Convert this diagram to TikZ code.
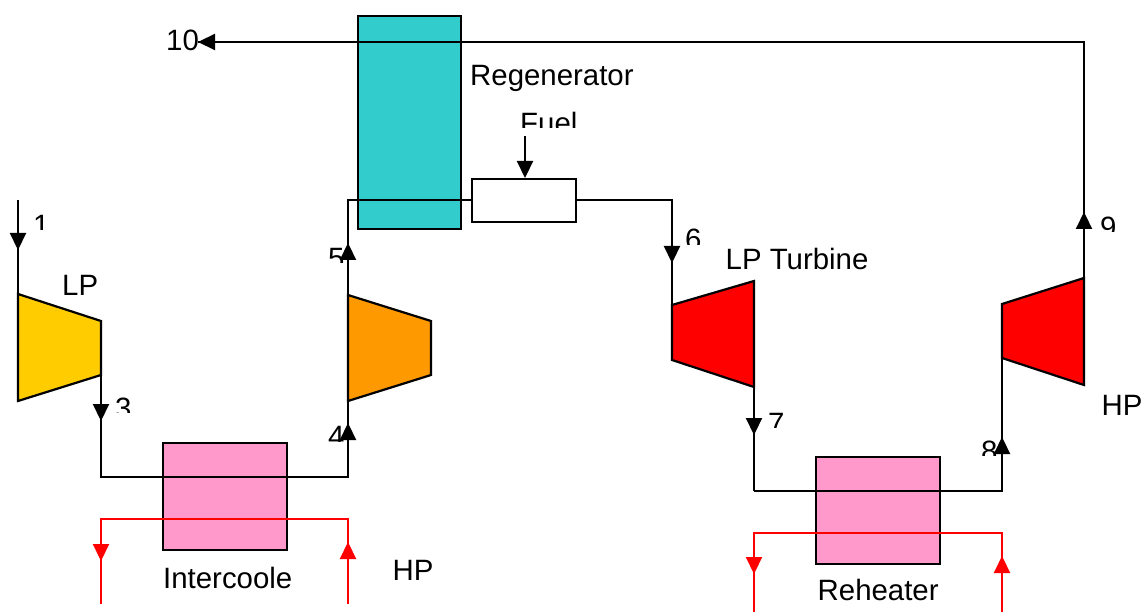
\documentclass[tikz,border=0pt]{standalone}
\usepackage{fontspec}
\setmainfont{Liberation Sans}
\usetikzlibrary{arrows.meta}
\definecolor{regen}{HTML}{33CCCC}
\definecolor{hx}{HTML}{FF99CC}
\definecolor{lpcomp}{HTML}{FFCC00}
\definecolor{hpcomp}{HTML}{FF9900}
\tikzset{
  flow/.style={draw=black,line width=2.2pt},
  hot/.style={draw=red,line width=2.2pt},
  flowtip/.style={flow,-{Triangle[length=17pt,width=16pt]}},
  hottip/.style={hot,-{Triangle[length=17pt,width=16pt]},red},
  box/.style={draw=black,line width=2.6pt,inner sep=0pt,outer sep=0pt,anchor=north west},
  machine/.style={draw=black,line width=2.2pt,line join=miter},
  lab/.style={anchor=base west,inner sep=0pt,font=\fontsize{29.4}{29.4}\selectfont},
}
\newcommand{\cliplabel}[5]{\begin{scope}\clip (0,0) rectangle (1143,#1);\node[lab] (#2) at (#3,#4) {#5};\end{scope}}
\begin{document}
\begin{tikzpicture}[x=1pt,y=-1pt]
\useasboundingbox (0,0) rectangle (1143,612);
% unit outlines
\coordinate (lpcA) at (18,294); \coordinate (lpcB) at (101,321); \coordinate (lpcC) at (101,375); \coordinate (lpcD) at (18,401);
\coordinate (hpcA) at (348,295); \coordinate (hpcB) at (431,321); \coordinate (hpcC) at (431,375); \coordinate (hpcD) at (348,401);
\coordinate (lptA) at (672,305); \coordinate (lptB) at (754,281); \coordinate (lptC) at (754,387); \coordinate (lptD) at (672,360);
\coordinate (hptA) at (1002,304); \coordinate (hptB) at (1084,278); \coordinate (hptC) at (1084,385); \coordinate (hptD) at (1002,358);
% clipped labels (under the arrows)
\cliplabel{230}{n1}{33}{236}{1}
\cliplabel{412}{n3}{115}{418}{3}
\cliplabel{263}{n5}{328}{269}{5}
\cliplabel{441}{n4}{328}{446}{4}
\cliplabel{245}{n6}{685}{250}{6}
\cliplabel{427}{n7}{768}{433}{7}
\cliplabel{455}{n8}{981}{461}{8}
\cliplabel{232}{n9}{1100}{238}{9}
\cliplabel{128}{nfuel}{520}{134}{Fuel}
\node[lab] (n10) at (166,51) {10};
\node[lab] (nreg) at (470,85.5) {Regenerator};
\node[lab] (nlp) at (62,295) {LP};
\node[lab] (nlpt) at (725.5,269.5) {LP Turbine};
\node[lab] (nhpr) at (1101.5,415) {HP};
\node[lab] (nhpl) at (392.5,580) {HP};
\node[lab] (nic) at (163,588) {Intercoole};
\node[lab] (nrh) at (817.5,600) {Reheater};
% equipment
\draw[machine,fill=lpcomp] (lpcA) -- (lpcB) -- (lpcC) -- (lpcD) -- cycle;
\draw[machine,fill=hpcomp] (hpcA) -- (hpcB) -- (hpcC) -- (hpcD) -- cycle;
\draw[machine,fill=red] (lptA) -- (lptB) -- (lptC) -- (lptD) -- cycle;
\draw[machine,fill=red] (hptA) -- (hptB) -- (hptC) -- (hptD) -- cycle;
\node[box,fill=regen,minimum width=103pt,minimum height=213pt] (regen) at (358,16) {};
\node[box,fill=white,minimum width=104pt,minimum height=43pt] (comb) at (472,179) {};
\node[box,fill=hx,minimum width=124pt,minimum height=107pt] (ic) at (163,443) {};
\node[box,fill=hx,minimum width=124pt,minimum height=107pt] (rh) at (816,457) {};
% route points
\coordinate (in1) at (18,200); \coordinate (t1) at (18,250); \coordinate (e1) at (18,307);
\coordinate (s3) at (101,365); \coordinate (t3) at (101,421); \coordinate (b3) at (101,477);
\coordinate (b4) at (348,477); \coordinate (t4) at (348,423); \coordinate (e4) at (348,370);
\coordinate (t5) at (348,243); \coordinate (c5) at (348,200);
\coordinate (c6) at (672,200); \coordinate (t6) at (672,263);
\coordinate (t7) at (754,435); \coordinate (b7) at (754,491);
\coordinate (b8) at (1002,491); \coordinate (t8) at (1002,437); \coordinate (e8) at (1002,340);
\coordinate (t9) at (1084,212); \coordinate (c9) at (1084,42); \coordinate (t10) at (198,42);
\coordinate (fuelin) at (525,136); \coordinate (tf) at (525,178);
\coordinate (icLb) at (101,604); \coordinate (icLc) at (101,519); \coordinate (icLt) at (101,561);
\coordinate (icRb) at (348,604); \coordinate (icRc) at (348,519); \coordinate (icRt) at (348,542);
\coordinate (rhLb) at (754,612); \coordinate (rhLc) at (754,533); \coordinate (rhLt) at (754,574);
\coordinate (rhRb) at (1002,612); \coordinate (rhRc) at (1002,533); \coordinate (rhRt) at (1002,556);
% process lines
\draw[flow] (in1) -- (e1);
\draw[flowtip] (in1) -- (t1);
\draw[flow,line join=miter] (s3) -- (b3) -- (b4) -- (e4);
\draw[flowtip] (s3) -- (t3);
\draw[flowtip] (b4) -- (t4);
\draw[flow,line join=miter] (hpcA) -- (c5) -- (comb.west |- c5);
\draw[flowtip] (hpcA) -- (t5);
\draw[flow,line join=miter] (comb.east |- c5) -- (c6) -- (lptA);
\draw[flowtip] (c6) -- (t6);
\draw[flow] (lptC) -- (b7);
\draw[flowtip] (lptC) -- (t7);
\draw[flow,line join=miter] (b7) -- (b8) -- (e8);
\draw[flowtip] (b8) -- (t8);
\draw[flow,line join=miter] (hptB) -- (c9) -- (t10);
\draw[flowtip] (hptB) -- (t9);
\draw[flowtip] (c9) -- (t10);
\draw[flowtip] (fuelin) -- (tf);
% heat-exchange lines
\draw[hot,line join=miter] (icRb) -- (icRc) -- (icLc) -- (icLb);
\draw[hottip] (icRb) -- (icRt);
\draw[hottip] (icLc) -- (icLt);
\draw[hot,line join=miter] (rhRb) -- (rhRc) -- (rhLc) -- (rhLb);
\draw[hottip] (rhRb) -- (rhRt);
\draw[hottip] (rhLc) -- (rhLt);
\end{tikzpicture}
\end{document}
